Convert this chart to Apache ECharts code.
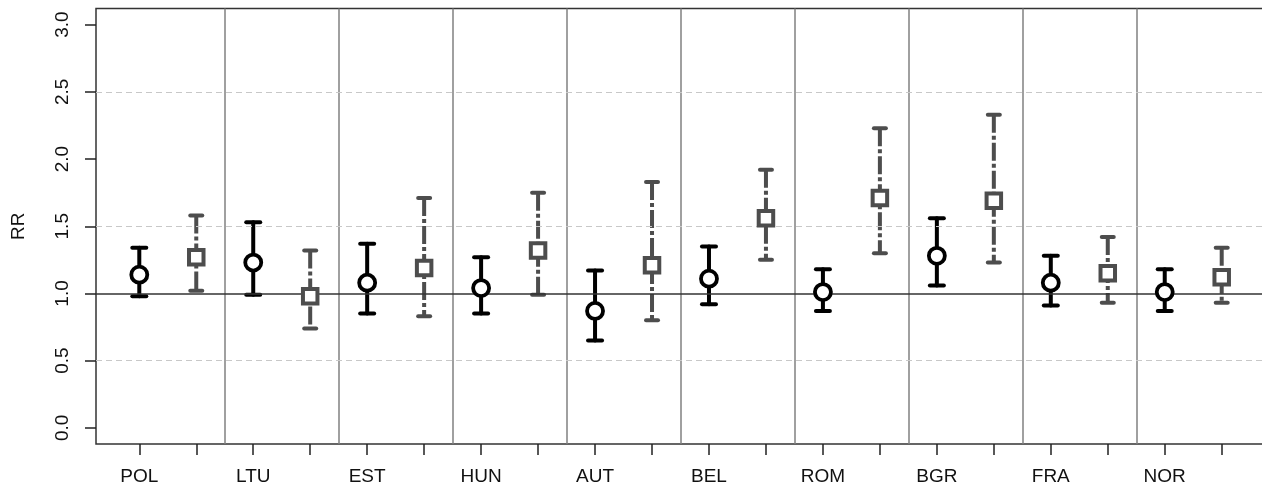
<!DOCTYPE html>
<html>
<head>
<meta charset="utf-8">
<script src="https://cdn.jsdelivr.net/npm/echarts@6/dist/echarts.min.js"></script>
<style>
html,body{margin:0;padding:0;background:#fff;}
#chart{width:1262px;height:491px;}
</style>
</head>
<body>
<div id="chart"></div>
<script>
const categories = ['POL','LTU','EST','HUN','AUT','BEL','ROM','BGR','FRA','NOR'];
const circleRR = [1.14,1.23,1.08,1.04,0.87,1.11,1.01,1.28,1.08,1.01];
const circleLo = [0.98,0.99,0.85,0.85,0.65,0.92,0.87,1.06,0.91,0.87];
const circleHi = [1.34,1.53,1.37,1.27,1.17,1.35,1.18,1.56,1.28,1.18];
const squareRR = [1.27,0.98,1.19,1.32,1.21,1.56,1.71,1.69,1.15,1.12];
const squareLo = [1.02,0.74,0.83,0.99,0.80,1.25,1.30,1.23,0.93,0.93];
const squareHi = [1.58,1.32,1.71,1.75,1.83,1.92,2.23,2.33,1.42,1.34];
const yTicks = [0,0.5,1,1.5,2,2.5,3];
const dashedLines = [0.5,1.5,2.5];
const refLine = 1;

const circleX = categories.map((c,i)=>2*i+1);
const squareX = categories.map((c,i)=>2*i+2);
const allTicks = categories.flatMap((c,i)=>[2*i+1,2*i+2]);
const separators = categories.slice(1).map((c,i)=>2*i+2.5);

function errItem(color, width, dash, capHalf){
  return function(params, api){
    const x = api.value(0), lo = api.value(1), hi = api.value(2);
    const pLo = api.coord([x, lo]), pHi = api.coord([x, hi]);
    const capStyle = {stroke: color, lineWidth: width, lineCap: 'round'};
    const barStyle = dash ? {stroke: color, lineWidth: width, lineCap: 'butt', lineDash: dash}
                          : {stroke: color, lineWidth: width, lineCap: 'round'};
    return {type:'group', children:[
      {type:'line', shape:{x1:pHi[0],y1:pHi[1],x2:pLo[0],y2:pLo[1]}, style:barStyle},
      {type:'line', shape:{x1:pLo[0]-capHalf,y1:pLo[1],x2:pLo[0]+capHalf,y2:pLo[1]}, style:capStyle},
      {type:'line', shape:{x1:pHi[0]-capHalf,y1:pHi[1],x2:pHi[0]+capHalf,y2:pHi[1]}, style:capStyle}
    ]};
  };
}

const chart = echarts.init(document.getElementById('chart'), null, {renderer:'canvas'});
const font = '"Liberation Sans", Arial, sans-serif';
chart.setOption({
  animation:false,
  backgroundColor:'#fff',
  grid:{left:96, top:8.5, width:1169, height:435.5, show:true, borderColor:'#333', borderWidth:1.5,
        backgroundColor:'transparent', containLabel:false, outerBoundsMode:'none'},
  xAxis:{
    type:'value', min:0.24, max:20.76,
    axisLine:{show:false, onZero:false},
    splitLine:{show:false},
    axisTick:{show:true, inside:false, customValues:allTicks, length:11, lineStyle:{color:'#222', width:1.5}},
    axisLabel:{show:true, customValues:circleX, margin:23, fontFamily:font, fontSize:19, color:'#111',
      formatter:(v)=>categories[Math.round((v-1)/2)]}
  },
  yAxis:{
    type:'value', min:-0.12, max:3.12,
    name:'RR', nameLocation:'middle', nameRotate:90, nameGap:68,
    nameTextStyle:{fontFamily:font, fontSize:19, color:'#111'},
    axisLine:{show:false, onZero:false},
    splitLine:{show:false},
    axisTick:{show:true, customValues:yTicks, length:11, lineStyle:{color:'#222', width:1.5}},
    axisLabel:{show:true, customValues:yTicks, rotate:90, margin:24, fontFamily:font, fontSize:19, color:'#111',
      formatter:(v)=>v.toFixed(1)}
  },
  series:[
    {
      type:'line', data:[], silent:true,
      markLine:{
        silent:true, symbol:'none', label:{show:false}, animation:false,
        data:[
          ...separators.map(v=>({xAxis:v, lineStyle:{color:'#808080', width:1.5, type:'solid'}})),
          ...dashedLines.map(v=>({yAxis:v, lineStyle:{color:'#c8c8c8', width:1.2, type:[6,4]}})),
          {yAxis:refLine, lineStyle:{color:'#333', width:1.5, type:'solid'}}
        ]
      },
      z:1
    },
    {
      type:'custom', z:3,
      renderItem: errItem('#000', 4, null, 7),
      data: circleX.map((x,i)=>[x, circleLo[i], circleHi[i]]),
      encode:{x:0, y:[1,2]}
    },
    {
      type:'custom', z:3,
      renderItem: errItem('#4d4d4d', 4, [18,3,4,3], 6),
      data: squareX.map((x,i)=>[x, squareLo[i], squareHi[i]]),
      encode:{x:0, y:[1,2]}
    },
    {
      type:'scatter', z:5, symbol:'circle', symbolSize:16,
      itemStyle:{color:'#fff', borderColor:'#000', borderWidth:3.8, opacity:1},
      data: circleX.map((x,i)=>[x, circleRR[i]])
    },
    {
      type:'scatter', z:5, symbol:'rect', symbolSize:14.5,
      itemStyle:{color:'#fff', borderColor:'#4d4d4d', borderWidth:4, opacity:1},
      data: squareX.map((x,i)=>[x, squareRR[i]])
    }
  ]
});
</script>
</body>
</html>
